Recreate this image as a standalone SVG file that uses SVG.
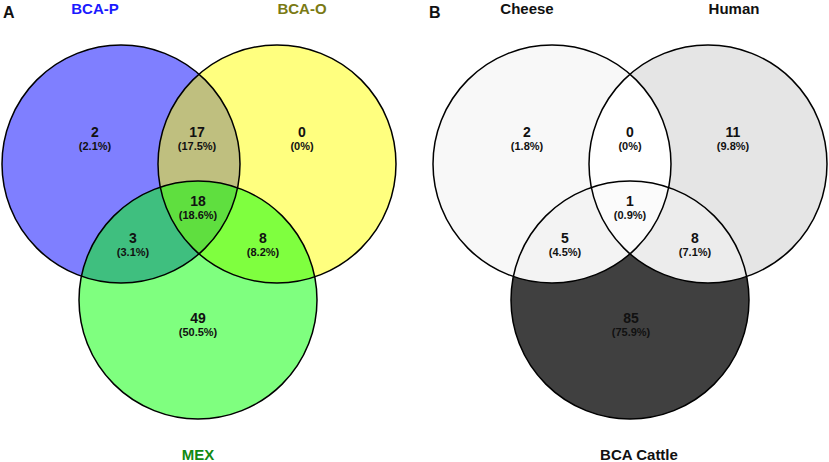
<svg xmlns="http://www.w3.org/2000/svg" width="829" height="462" viewBox="0 0 829 462">
<style>
text{font-family:"Liberation Sans",Arial,sans-serif;font-weight:bold;text-anchor:middle;fill:#111}
.n{font-size:14px}
.p{font-size:11px}
.set{font-size:15px}
.panel{font-size:16px;text-anchor:start}
.edge{fill:none;stroke:#000;stroke-width:1.5}
</style>
<defs>
<clipPath id="cCheese"><circle cx="552" cy="164" r="119"/></clipPath>
<clipPath id="cHuman"><circle cx="708" cy="164" r="119"/></clipPath>
</defs>
<rect width="829" height="462" fill="#fff"/>

<g id="panelA">
<text class="panel" x="3" y="18">A</text>
<g id="bcap">
<circle cx="121" cy="164" r="119" fill="#0000ff" fill-opacity="0.5"/>
<text class="set" x="95" y="14" style="fill:#1a1aff">BCA-P</text>
</g>
<g id="bcao">
<circle cx="277" cy="164" r="119" fill="#ffff00" fill-opacity="0.5"/>
<text class="set" x="302" y="14" style="fill:#7a7a14">BCA-O</text>
</g>
<g id="mex">
<circle cx="198" cy="300" r="119" fill="#00ff00" fill-opacity="0.5"/>
<text class="set" x="198" y="460" style="fill:#128a12">MEX</text>
</g>
<g id="outlineA">
<circle class="edge" cx="121" cy="164" r="119"/>
<circle class="edge" cx="277" cy="164" r="119"/>
<circle class="edge" cx="198" cy="300" r="119"/>
</g>
<g id="countsA">
<text class="n" x="95" y="136.5">2</text><text class="p" x="95" y="149.5">(2.1%)</text>
<text class="n" x="197" y="136.5">17</text><text class="p" x="197" y="149.5">(17.5%)</text>
<text class="n" x="302" y="136.5">0</text><text class="p" x="302" y="149.5">(0%)</text>
<text class="n" x="198" y="205.5">18</text><text class="p" x="198" y="218.5">(18.6%)</text>
<text class="n" x="133" y="242.5">3</text><text class="p" x="133" y="255.5">(3.1%)</text>
<text class="n" x="263" y="242.5">8</text><text class="p" x="263" y="255.5">(8.2%)</text>
<text class="n" x="198" y="322.5">49</text><text class="p" x="198" y="335.5">(50.5%)</text>
</g>
</g>

<g id="panelB">
<text class="panel" x="429" y="18">B</text>
<g id="cheese">
<circle cx="552" cy="164" r="119" fill="#f8f8f8"/>
<text class="set" x="527" y="14">Cheese</text>
</g>
<g id="human">
<circle cx="708" cy="164" r="119" fill="#e5e5e5"/>
<text class="set" x="734" y="14">Human</text>
</g>
<g id="cattle">
<circle cx="630" cy="300" r="119" fill="#404040"/>
<text class="set" x="639" y="460">BCA Cattle</text>
</g>
<g id="overlapsB">
<circle cx="708" cy="164" r="119" fill="#ffffff" clip-path="url(#cCheese)"/>
<circle cx="630" cy="300" r="119" fill="#f3f3f3" clip-path="url(#cCheese)"/>
<circle cx="630" cy="300" r="119" fill="#ececec" clip-path="url(#cHuman)"/>
<g clip-path="url(#cCheese)"><circle cx="630" cy="300" r="119" fill="#fbfbfb" clip-path="url(#cHuman)"/></g>
</g>
<g id="outlineB">
<circle class="edge" cx="552" cy="164" r="119"/>
<circle class="edge" cx="708" cy="164" r="119"/>
<circle class="edge" cx="630" cy="300" r="119"/>
</g>
<g id="countsB">
<text class="n" x="527" y="136.5">2</text><text class="p" x="527" y="149.5">(1.8%)</text>
<text class="n" x="630" y="136.5">0</text><text class="p" x="630" y="149.5">(0%)</text>
<text class="n" x="733" y="136.5">11</text><text class="p" x="733" y="149.5">(9.8%)</text>
<text class="n" x="630" y="205.5">1</text><text class="p" x="630" y="218.5">(0.9%)</text>
<text class="n" x="565" y="242.5">5</text><text class="p" x="565" y="255.5">(4.5%)</text>
<text class="n" x="695" y="242.5">8</text><text class="p" x="695" y="255.5">(7.1%)</text>
<text class="n" x="631" y="322.5">85</text><text class="p" x="631" y="335.5">(75.9%)</text>
</g>
</g>
</svg>
